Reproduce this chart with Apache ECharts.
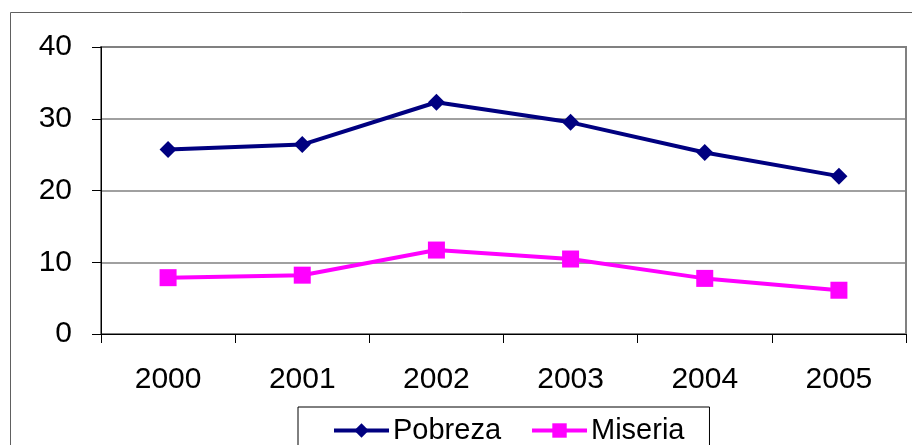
<!DOCTYPE html>
<html>
<head>
<meta charset="utf-8">
<script src="https://cdn.jsdelivr.net/npm/echarts@6/dist/echarts.min.js"></script>
<style>
  html, body { margin: 0; padding: 0; background: #fff; }
  #chart { width: 912px; height: 445px; }
</style>
</head>
<body>
<div id="chart"></div>
<script>
// datos
const years = ['2000', '2001', '2002', '2003', '2004', '2005']
const pobreza = [25.7, 26.4, 32.3, 29.5, 25.3, 22.0]
const miseria = [7.85, 8.2, 11.7, 10.45, 7.75, 6.1]
const yTicks = { min: 0, max: 40, interval: 10 }

const font = 'Liberation Sans, Arial, sans-serif'
const chart = echarts.init(document.getElementById('chart'))

chart.setOption({
  animation: false,
  graphic: [
    {
      type: 'rect',
      shape: { x: 10.5, y: 12.5, width: 920, height: 460 },
      style: { fill: 'none', stroke: '#606060', lineWidth: 1 },
      silent: true,
    },
  ],
  grid: {
    left: 101,
    top: 47,
    right: 6,
    bottom: 111,
    show: true,
    borderColor: '#808080',
    borderWidth: 2,
  },
  legend: {
    left: 298,
    top: 407,
    padding: [9, 25, 10, 34],
    borderColor: '#000',
    borderWidth: 1,
    itemWidth: 55,
    itemHeight: 18,
    itemGap: 29,
    lineStyle: { width: 4 },
    textStyle: { fontFamily: font, fontSize: 29, color: '#000', padding: [0, 0, 0, -1] },
    data: ['Pobreza', 'Miseria'],
  },
  xAxis: {
    type: 'category',
    data: years,
    boundaryGap: true,
    axisLine: { lineStyle: { color: '#000', width: 1 } },
    axisTick: { show: true, length: 9, lineStyle: { color: '#000' } },
    axisLabel: { fontFamily: font, fontSize: 30, color: '#000', margin: 31 },
    splitLine: { show: false },
  },
  yAxis: {
    type: 'value',
    min: yTicks.min,
    max: yTicks.max,
    interval: yTicks.interval,
    axisLine: { show: true, lineStyle: { color: '#000', width: 1 } },
    axisTick: { show: true, length: 9, lineStyle: { color: '#000' } },
    axisLabel: { fontFamily: font, fontSize: 30, color: '#000', margin: 29 },
    splitLine: { lineStyle: { color: '#808080', width: 1.5 } },
  },
  series: [
    {
      name: 'Pobreza',
      type: 'line',
      data: pobreza,
      symbol: 'diamond',
      symbolSize: 17,
      lineStyle: { color: '#000080', width: 4 },
      itemStyle: { color: '#000080' },
    },
    {
      name: 'Miseria',
      type: 'line',
      data: miseria,
      symbol: 'rect',
      symbolSize: 17,
      lineStyle: { color: '#FF00FF', width: 4 },
      itemStyle: { color: '#FF00FF' },
    },
  ],
})
</script>
</body>
</html>
